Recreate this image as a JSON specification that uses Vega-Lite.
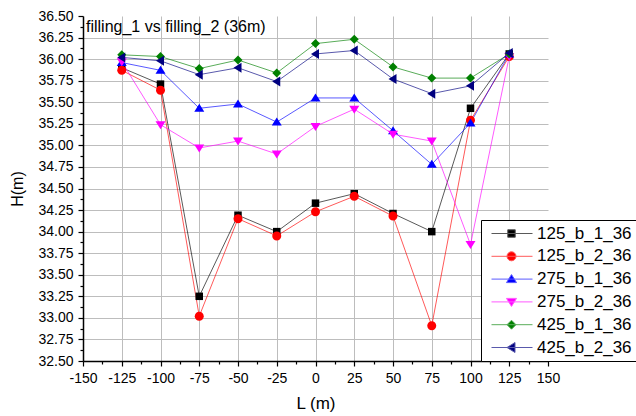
{
  "$schema": "https://vega.github.io/schema/vega-lite/v6.json",
  "width": 465,
  "height": 345,
  "autosize": {"type": "none"},
  "padding": {"left": 83, "top": 16, "right": 88, "bottom": 55},
  "background": "white",
  "config": {
    "view": {"stroke": null},
    "font": "Liberation Sans"
  },
  "title": {
    "text": "filling_1 vs filling_2 (36m)",
    "anchor": "start",
    "frame": "group",
    "orient": "top",
    "offset": -39,
    "baseline": "alphabetic",
    "dx": 3,
    "fontSize": 16,
    "font": "Liberation Sans",
    "fontWeight": "normal",
    "color": "black"
  },
  "data": {
    "values": [
      {"series": "125_b_1_36", "L": -125, "H": 35.90},
      {"series": "125_b_1_36", "L": -100, "H": 35.71},
      {"series": "125_b_1_36", "L": -75, "H": 33.25},
      {"series": "125_b_1_36", "L": -50, "H": 34.19},
      {"series": "125_b_1_36", "L": -25, "H": 34.00},
      {"series": "125_b_1_36", "L": 0, "H": 34.33},
      {"series": "125_b_1_36", "L": 25, "H": 34.44},
      {"series": "125_b_1_36", "L": 50, "H": 34.21},
      {"series": "125_b_1_36", "L": 75, "H": 34.00},
      {"series": "125_b_1_36", "L": 100, "H": 35.43},
      {"series": "125_b_1_36", "L": 125, "H": 36.06},
      {"series": "125_b_2_36", "L": -125, "H": 35.87},
      {"series": "125_b_2_36", "L": -100, "H": 35.64},
      {"series": "125_b_2_36", "L": -75, "H": 33.02},
      {"series": "125_b_2_36", "L": -50, "H": 34.15},
      {"series": "125_b_2_36", "L": -25, "H": 33.95},
      {"series": "125_b_2_36", "L": 0, "H": 34.23},
      {"series": "125_b_2_36", "L": 25, "H": 34.41},
      {"series": "125_b_2_36", "L": 50, "H": 34.18},
      {"series": "125_b_2_36", "L": 75, "H": 32.91},
      {"series": "125_b_2_36", "L": 100, "H": 35.29},
      {"series": "125_b_2_36", "L": 125, "H": 36.03},
      {"series": "275_b_1_36", "L": -125, "H": 35.96},
      {"series": "275_b_1_36", "L": -100, "H": 35.87},
      {"series": "275_b_1_36", "L": -75, "H": 35.43},
      {"series": "275_b_1_36", "L": -50, "H": 35.48},
      {"series": "275_b_1_36", "L": -25, "H": 35.27},
      {"series": "275_b_1_36", "L": 0, "H": 35.55},
      {"series": "275_b_1_36", "L": 25, "H": 35.55},
      {"series": "275_b_1_36", "L": 50, "H": 35.17},
      {"series": "275_b_1_36", "L": 75, "H": 34.78},
      {"series": "275_b_1_36", "L": 100, "H": 35.26},
      {"series": "275_b_1_36", "L": 125, "H": 36.06},
      {"series": "275_b_2_36", "L": -125, "H": 35.97},
      {"series": "275_b_2_36", "L": -100, "H": 35.24},
      {"series": "275_b_2_36", "L": -75, "H": 34.97},
      {"series": "275_b_2_36", "L": -50, "H": 35.05},
      {"series": "275_b_2_36", "L": -25, "H": 34.90},
      {"series": "275_b_2_36", "L": 0, "H": 35.22},
      {"series": "275_b_2_36", "L": 25, "H": 35.42},
      {"series": "275_b_2_36", "L": 50, "H": 35.13},
      {"series": "275_b_2_36", "L": 75, "H": 35.05},
      {"series": "275_b_2_36", "L": 100, "H": 33.85},
      {"series": "275_b_2_36", "L": 125, "H": 36.03},
      {"series": "425_b_1_36", "L": -125, "H": 36.05},
      {"series": "425_b_1_36", "L": -100, "H": 36.03},
      {"series": "425_b_1_36", "L": -75, "H": 35.89},
      {"series": "425_b_1_36", "L": -50, "H": 35.99},
      {"series": "425_b_1_36", "L": -25, "H": 35.84},
      {"series": "425_b_1_36", "L": 0, "H": 36.18},
      {"series": "425_b_1_36", "L": 25, "H": 36.23},
      {"series": "425_b_1_36", "L": 50, "H": 35.91},
      {"series": "425_b_1_36", "L": 75, "H": 35.78},
      {"series": "425_b_1_36", "L": 100, "H": 35.78},
      {"series": "425_b_1_36", "L": 125, "H": 36.06},
      {"series": "425_b_2_36", "L": -125, "H": 36.02},
      {"series": "425_b_2_36", "L": -100, "H": 35.98},
      {"series": "425_b_2_36", "L": -75, "H": 35.82},
      {"series": "425_b_2_36", "L": -50, "H": 35.90},
      {"series": "425_b_2_36", "L": -25, "H": 35.74},
      {"series": "425_b_2_36", "L": 0, "H": 36.06},
      {"series": "425_b_2_36", "L": 25, "H": 36.10},
      {"series": "425_b_2_36", "L": 50, "H": 35.77},
      {"series": "425_b_2_36", "L": 75, "H": 35.60},
      {"series": "425_b_2_36", "L": 100, "H": 35.69},
      {"series": "425_b_2_36", "L": 125, "H": 36.07}
    ]
  },
  "encoding": {
    "x": {
      "field": "L",
      "type": "quantitative",
      "scale": {"domain": [-150, 150], "nice": false, "zero": false},
      "axis": {
        "title": "L (m)",
        "values": [-150, -137.5, -125, -112.5, -100, -87.5, -75, -62.5, -50, -37.5, -25, -12.5, 0, 12.5, 25, 37.5, 50, 62.5, 75, 87.5, 100, 112.5, 125, 137.5, 150],
        "labelExpr": "datum.value % 25 === 0 ? '' + datum.value : ''",
        "labelOverlap": false,
        "labelFlush": false,
        "labelBound": false,
        "tickSize": {"condition": {"test": "datum.value % 25 === 0", "value": 5}, "value": 3},
        "tickColor": "black",
        "tickWidth": 1.2,
        "domainColor": "black",
        "domainWidth": 1.5,
        "grid": true,
        "gridColor": "#bdbdbd",
        "gridWidth": 1,
        "gridOpacity": {"condition": {"test": "datum.value % 25 === 0 && abs(datum.value) < 150", "value": 1}, "value": 0},
        "labelFontSize": 14,
        "labelColor": "black",
        "labelPadding": 5,
        "titleFontSize": 17,
        "titleFontWeight": "normal",
        "titleColor": "black",
        "titlePadding": 10
      }
    },
    "y": {
      "field": "H",
      "type": "quantitative",
      "scale": {"domain": [32.5, 36.5], "nice": false, "zero": false},
      "axis": {
        "title": "H(m)",
        "values": [32.5, 32.625, 32.75, 32.875, 33, 33.125, 33.25, 33.375, 33.5, 33.625, 33.75, 33.875, 34, 34.125, 34.25, 34.375, 34.5, 34.625, 34.75, 34.875, 35, 35.125, 35.25, 35.375, 35.5, 35.625, 35.75, 35.875, 36, 36.125, 36.25, 36.375, 36.5],
        "labelExpr": "datum.value % 0.25 === 0 ? format(datum.value, '.2f') : ''",
        "labelOverlap": false,
        "labelFlush": false,
        "labelBound": false,
        "tickSize": {"condition": {"test": "datum.value % 0.25 === 0", "value": 5}, "value": 3},
        "tickColor": "black",
        "tickWidth": 1.2,
        "domainColor": "black",
        "domainWidth": 1.5,
        "grid": true,
        "gridColor": "#bdbdbd",
        "gridWidth": 1,
        "gridOpacity": {"condition": {"test": "datum.value % 0.25 === 0 && datum.value > 32.5 && datum.value < 36.5", "value": 1}, "value": 0},
        "labelFontSize": 14,
        "labelColor": "black",
        "labelPadding": 5,
        "titleFontSize": 16,
        "titleFontWeight": "normal",
        "titleColor": "black",
        "titlePadding": 12
      }
    }
  },
  "layer": [
    {
      "mark": {"type": "point", "filled": true, "opacity": 0, "size": 100, "strokeWidth": 1},
      "encoding": {
        "fill": {
          "field": "series",
          "type": "nominal",
          "scale": {
            "domain": ["125_b_1_36", "125_b_2_36", "275_b_1_36", "275_b_2_36", "425_b_1_36", "425_b_2_36"],
            "range": ["#000000", "#ff0000", "#0000ff", "#ff00ff", "#008000", "#000080"]
          },
          "legend": {
            "title": null, "orient": "none", "legendX": 398, "legendY": 204,
            "strokeColor": "black", "fillColor": "white", "padding": 5, "rowPadding": 4.8,
            "symbolSize": 100, "symbolStrokeWidth": 1, "symbolOpacity": 1,
            "labelOffset": 34, "labelFontSize": 17, "labelColor": "black", "labelLimit": 300
          }
        },
        "stroke": {
          "field": "series",
          "type": "nominal",
          "scale": {
            "domain": ["125_b_1_36", "125_b_2_36", "275_b_1_36", "275_b_2_36", "425_b_1_36", "425_b_2_36"],
            "range": ["#595959", "#ff5959", "#5959ff", "#ff59ff", "#59ad59", "#5959ac"]
          },
          "legend": {
            "title": null, "orient": "none", "legendX": 398, "legendY": 204,
            "strokeColor": "black", "fillColor": "white", "padding": 5, "rowPadding": 4.8,
            "symbolSize": 100, "symbolStrokeWidth": 1, "symbolOpacity": 1,
            "labelOffset": 34, "labelFontSize": 17, "labelColor": "black", "labelLimit": 300
          }
        },
        "shape": {
          "field": "series",
          "type": "nominal",
          "scale": {
            "domain": ["125_b_1_36", "125_b_2_36", "275_b_1_36", "275_b_2_36", "425_b_1_36", "425_b_2_36"],
            "range": [
              "M-0.6,0H7.6M2.65,-0.75H4.15V0.75H2.65Z",
              "M-0.6,0H7.6M2.5,0A0.9,0.9 0 1,0 4.3,0A0.9,0.9 0 1,0 2.5,0Z",
              "M-0.6,0H7.6M3.4,-0.9L4.4,0.7H2.4Z",
              "M-0.6,0H7.6M3.4,0.9L4.4,-0.7H2.4Z",
              "M-0.6,0H7.6M3.4,-0.9L4.3,0L3.4,0.9L2.5,0Z",
              "M-0.6,0H7.6M2.5,0L4.1,-1V1Z"
            ]
          },
          "legend": {
            "title": null, "orient": "none", "legendX": 398, "legendY": 204,
            "strokeColor": "black", "fillColor": "white", "padding": 5, "rowPadding": 4.8,
            "symbolSize": 100, "symbolStrokeWidth": 1, "symbolOpacity": 1,
            "labelOffset": 34, "labelFontSize": 17, "labelColor": "black", "labelLimit": 300
          }
        }
      }
    },
    {
      "mark": {"type": "line", "strokeWidth": 1, "opacity": 0.65},
      "encoding": {
        "color": {
          "field": "series",
          "type": "nominal",
          "scale": {
            "domain": ["125_b_1_36", "125_b_2_36", "275_b_1_36", "275_b_2_36", "425_b_1_36", "425_b_2_36"],
            "range": ["#000000", "#ff0000", "#0000ff", "#ff00ff", "#008000", "#000080"]
          },
          "legend": null
        }
      }
    },
    {
      "transform": [{"filter": "datum.series === '125_b_1_36'"}],
      "mark": {"type": "point", "filled": true, "opacity": 1, "size": 100, "color": "#000000", "shape": "M-0.75,-0.75H0.75V0.75H-0.75Z"}
    },
    {
      "transform": [{"filter": "datum.series === '125_b_2_36'"}],
      "mark": {"type": "point", "filled": true, "opacity": 1, "size": 100, "color": "#ff0000", "shape": "M-0.9,0A0.9,0.9 0 1,0 0.9,0A0.9,0.9 0 1,0 -0.9,0Z"}
    },
    {
      "transform": [{"filter": "datum.series === '275_b_1_36'"}],
      "mark": {"type": "point", "filled": true, "opacity": 1, "size": 100, "color": "#0000ff", "shape": "M0,-0.9L1,0.7H-1Z"}
    },
    {
      "transform": [{"filter": "datum.series === '275_b_2_36'"}],
      "mark": {"type": "point", "filled": true, "opacity": 1, "size": 100, "color": "#ff00ff", "shape": "M0,0.9L1,-0.7H-1Z"}
    },
    {
      "transform": [{"filter": "datum.series === '425_b_1_36'"}],
      "mark": {"type": "point", "filled": true, "opacity": 1, "size": 100, "color": "#008000", "shape": "M0,-0.9L0.9,0L0,0.9L-0.9,0Z"}
    },
    {
      "transform": [{"filter": "datum.series === '425_b_2_36'"}],
      "mark": {"type": "point", "filled": true, "opacity": 1, "size": 100, "color": "#000080", "shape": "M-0.9,0L0.7,-1V1Z"}
    }
  ]
}
